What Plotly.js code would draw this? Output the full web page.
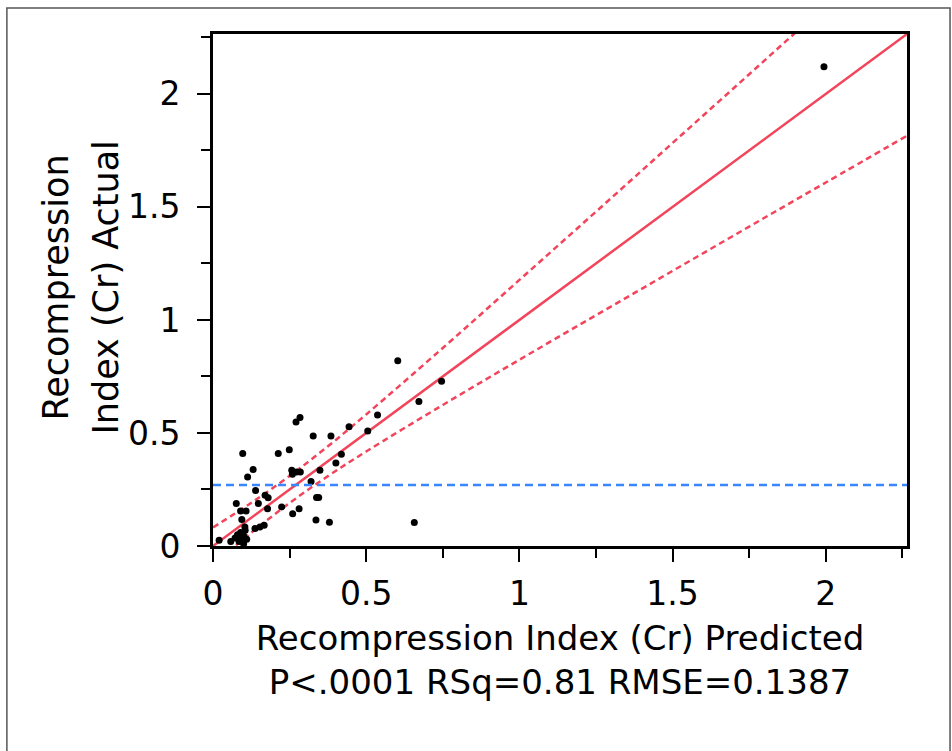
<!DOCTYPE html>
<html>
<head>
<meta charset="utf-8">
<script src="https://cdn.plot.ly/plotly-3.0.1.min.js"></script>
<style>
  html, body { margin: 0; padding: 0; background: #ffffff; }
  #chart { width: 952px; height: 751px; }
</style>
</head>
<body>
<div id="chart"></div>
<script>
// Scatter points: predicted vs actual recompression index
var predicted = [0.02, 0.058, 0.072, 0.08, 0.085, 0.09, 0.095, 0.10, 0.105, 0.11,
  0.10, 0.104, 0.094, 0.09, 0.108, 0.076, 0.097, 0.113, 0.131, 0.139,
  0.148, 0.137, 0.153, 0.167, 0.17, 0.18, 0.178, 0.213, 0.224, 0.249,
  0.26, 0.281, 0.271, 0.284, 0.257, 0.259, 0.273, 0.285, 0.32, 0.327,
  0.349, 0.338, 0.345, 0.336, 0.38, 0.385, 0.401, 0.419, 0.444, 0.505,
  0.537, 0.603, 0.672, 0.746, 0.657, 1.994];
var actual = [0.025, 0.02, 0.035, 0.05, 0.02, 0.06, 0.03, 0.045, 0.07, 0.03,
  0.01, 0.084, 0.117, 0.155, 0.155, 0.188, 0.409, 0.305, 0.338, 0.246,
  0.188, 0.077, 0.084, 0.092, 0.224, 0.214, 0.165, 0.409, 0.173, 0.426,
  0.143, 0.165, 0.549, 0.568, 0.335, 0.317, 0.327, 0.327, 0.285, 0.487,
  0.335, 0.215, 0.215, 0.115, 0.105, 0.487, 0.367, 0.406, 0.528, 0.509,
  0.579, 0.819, 0.639, 0.729, 0.104, 2.12];

// Fit line (actual = predicted)
var fitX = [0, 2.27];
var fitY = [0, 2.27];

// Confidence curves read at several predicted values
var bandX     = [0, 0.125, 0.25, 0.375, 0.5, 0.75, 1.0, 1.25, 1.5, 1.75, 2.0, 2.27];
var bandUpper = [0.082, 0.191, 0.31, 0.441, 0.582, 0.876, 1.177, 1.479, 1.783, 2.087, 2.392, 2.721];
var bandLower = [-0.082, 0.059, 0.19, 0.309, 0.418, 0.624, 0.824, 1.021, 1.217, 1.413, 1.608, 1.819];

// Mean of actual
var meanActual = 0.27;

// Axis ticks
var tickVals = [0, 0.5, 1, 1.5, 2];
var tickText = ['0', '0.5', '1', '1.5', '2'];

var xTitle = 'Recompression Index (Cr) Predicted<br>P&lt;.0001 RSq=0.81 RMSE=0.1387';
var yTitleLines = ['Recompression', 'Index (Cr) Actual'];

var red = '#f2445a';
var blue = '#3a86ff';
var fontFam = 'DejaVu Sans, Liberation Sans, Arial, sans-serif';

var traces = [
  { x: bandX, y: bandUpper, mode: 'lines', type: 'scatter', hoverinfo: 'skip',
    line: { color: red, width: 2.5, dash: '6px,4px', shape: 'spline' } },
  { x: bandX, y: bandLower, mode: 'lines', type: 'scatter', hoverinfo: 'skip',
    line: { color: red, width: 2.5, dash: '6px,4px', shape: 'spline' } },
  { x: fitX, y: fitY, mode: 'lines', type: 'scatter',
    line: { color: red, width: 2.5 } },
  { x: predicted, y: actual, mode: 'markers', type: 'scatter',
    marker: { color: '#000000', size: 7 } }
];

var axisCommon = {
  range: [0, 2.265],
  tickvals: tickVals,
  ticktext: tickText,
  ticks: 'outside',
  ticklen: 13,
  tickwidth: 2,
  tickcolor: '#000',
  showline: true,
  linecolor: '#000',
  linewidth: 2.8,
  mirror: true,
  showgrid: false,
  zeroline: false,
  tickfont: { family: fontFam, size: 33, color: '#000' },
  minor: { dtick: 0.25, tick0: 0, ticks: 'outside', ticklen: 9, tickwidth: 2, tickcolor: '#000', showgrid: false },
  automargin: false,
  fixedrange: true
};

var layout = {
  width: 952,
  height: 751,
  margin: { l: 213, r: 45, t: 34, b: 205 },
  paper_bgcolor: '#ffffff',
  plot_bgcolor: '#ffffff',
  showlegend: false,
  font: { family: fontFam, color: '#000' },
  xaxis: Object.assign({}, axisCommon, {
    ticklabelstandoff: 4,
    title: { text: xTitle, font: { family: fontFam, size: 34, color: '#000' }, standoff: 14 }
  }),
  yaxis: Object.assign({}, axisCommon, {
    ticklabelstandoff: 10
  }),
  annotations: [
    { text: yTitleLines[0], xref: 'paper', yref: 'paper', x: -0.226, y: 0.505, xanchor: 'center', yanchor: 'middle',
      textangle: -90, showarrow: false, font: { family: fontFam, size: 35, color: '#000' } },
    { text: yTitleLines[1], xref: 'paper', yref: 'paper', x: -0.154, y: 0.505, xanchor: 'center', yanchor: 'middle',
      textangle: -90, showarrow: false, font: { family: fontFam, size: 35, color: '#000' } }
  ],
  shapes: [
    { type: 'line', xref: 'paper', yref: 'y', x0: 0, x1: 1, y0: meanActual, y1: meanActual,
      line: { color: blue, width: 2.5, dash: '8px,5px' } },
    { type: 'rect', xref: 'paper', yref: 'paper', x0: -0.297, x1: 1.062, y0: -0.45, y1: 1.0508,
      line: { color: '#555', width: 1.5 }, fillcolor: 'rgba(0,0,0,0)', layer: 'below' }
  ]
};

Plotly.newPlot('chart', traces, layout, { staticPlot: true, displayModeBar: false });
</script>
</body>
</html>
